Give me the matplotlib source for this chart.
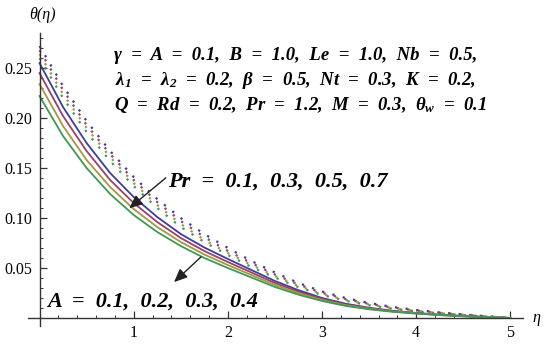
import matplotlib
matplotlib.use("Agg")
import matplotlib.pyplot as plt
from matplotlib.ticker import MultipleLocator

plt.rcParams["mathtext.fontset"] = "custom"
plt.rcParams["mathtext.it"] = "Liberation Serif:italic:bold"
plt.rcParams["mathtext.rm"] = "Liberation Serif:italic:bold"
plt.rcParams["mathtext.bf"] = "Liberation Serif:italic:bold"

eta = [0.0, 0.25, 0.5, 0.75, 1.0, 1.25, 1.5, 1.75, 2.0, 2.25, 2.5,
       2.75, 3.0, 3.25, 3.5, 3.75, 4.0, 4.25, 4.5, 4.75, 5.0]

# solid curves: A = 0.1, 0.2, 0.3, 0.4
theta_A1 = [0.255, 0.211, 0.175, 0.145, 0.121, 0.101, 0.084, 0.0705, 0.059, 0.048, 0.037,
            0.0278, 0.020, 0.0143, 0.0102, 0.0072, 0.005, 0.0033, 0.002, 0.001, 0.0]
theta_A2 = [0.245, 0.202, 0.167, 0.138, 0.115, 0.096, 0.080, 0.067, 0.056, 0.0455, 0.035,
            0.0263, 0.019, 0.0135, 0.0097, 0.0068, 0.0048, 0.0031, 0.0019, 0.001, 0.0]
theta_A3 = [0.234, 0.192, 0.158, 0.131, 0.109, 0.091, 0.076, 0.0635, 0.053, 0.043, 0.033,
            0.0248, 0.018, 0.0128, 0.0092, 0.0065, 0.0046, 0.003, 0.0018, 0.0009, 0.0]
theta_A4 = [0.222, 0.182, 0.150, 0.124, 0.103, 0.086, 0.072, 0.060, 0.050, 0.0405, 0.031,
            0.0233, 0.017, 0.0121, 0.0087, 0.0062, 0.0044, 0.0029, 0.0017, 0.0008, 0.0]

# dotted curves: Pr = 0.1, 0.3, 0.5, 0.7
theta_Pr1 = [0.272, 0.232, 0.197, 0.167, 0.141, 0.119, 0.100, 0.084, 0.070, 0.057, 0.0455,
             0.035, 0.0265, 0.020, 0.015, 0.011, 0.008, 0.0055, 0.0035, 0.0017, 0.0]
theta_Pr2 = [0.268, 0.228, 0.193, 0.164, 0.138, 0.116, 0.097, 0.081, 0.067, 0.055, 0.0435,
             0.0335, 0.0252, 0.019, 0.0142, 0.0104, 0.0075, 0.0052, 0.0033, 0.0016, 0.0]
theta_Pr3 = [0.264, 0.224, 0.190, 0.161, 0.135, 0.113, 0.094, 0.078, 0.065, 0.053, 0.042,
             0.032, 0.024, 0.018, 0.0135, 0.0098, 0.0071, 0.0049, 0.0031, 0.0015, 0.0]
theta_Pr4 = [0.260, 0.220, 0.186, 0.157, 0.132, 0.110, 0.091, 0.076, 0.063, 0.051, 0.0405,
             0.0308, 0.023, 0.0172, 0.0128, 0.0093, 0.0067, 0.0046, 0.0029, 0.0014, 0.0]

colors = ["#3d3d99", "#9a3d70", "#a8963d", "#3d9a55"]

x_ticks = [1, 2, 3, 4, 5]
y_ticks = [0.05, 0.10, 0.15, 0.20, 0.25]
y_tick_labels = ["0.05", "0.10", "0.15", "0.20", "0.25"]

serif = "Liberation Serif"


def main():
    fig = plt.figure(figsize=(5.5, 3.45), dpi=100)
    ax = fig.add_axes([0.0513, 0.0551, 0.899, 0.849])

    for c, th in zip(colors, [theta_Pr1, theta_Pr2, theta_Pr3, theta_Pr4]):
        ax.plot(eta, th, color=c, lw=1.6, linestyle=(0, (1, 3.8)))
    for c, th in zip(colors, [theta_A1, theta_A2, theta_A3, theta_A4]):
        ax.plot(eta, th, color=c, lw=1.3)

    ax.set_xlim(-0.12, 5.13)
    ax.set_ylim(-0.008, 0.285)

    for s in ["top", "right"]:
        ax.spines[s].set_visible(False)
    ax.spines["left"].set_position(("data", 0))
    ax.spines["bottom"].set_position(("data", 0))
    for s in ["left", "bottom"]:
        ax.spines[s].set_color("#333333")
        ax.spines[s].set_linewidth(1.0)

    ax.set_xticks(x_ticks)
    ax.set_xticklabels([str(t) for t in x_ticks])
    ax.set_yticks(y_ticks)
    ax.set_yticklabels(y_tick_labels)
    ax.xaxis.set_minor_locator(MultipleLocator(0.2))
    ax.yaxis.set_minor_locator(MultipleLocator(0.01))
    ax.tick_params(which="major", direction="in", length=5, width=0.9,
                   color="#333333", labelsize=11.5, pad=5)
    ax.tick_params(which="minor", direction="in", length=2.5, width=0.7,
                   color="#333333")
    for lab in ax.get_xticklabels() + ax.get_yticklabels():
        lab.set_fontfamily(serif)

    ax.text(0.027, 0.303, "θ(η)", fontfamily=serif, fontstyle="italic",
            fontsize=11.5, ha="center", va="center", clip_on=False)
    ax.text(5.28, 0.0, "η", fontfamily=serif, fontstyle="italic",
            fontsize=11.5, ha="center", va="center", clip_on=False)

    txt = dict(fontfamily=serif, fontweight="bold", fontstyle="italic",
               ha="center", va="center", fontsize=13.5)
    ax.text(2.72, 0.263, "γ  =  A  =  0.1,  B  =  1.0,  Le  =  1.0,  Nb  =  0.5,", **txt)
    ax.text(2.72, 0.238, "λ$_{1}$  =  λ$_{2}$  =  0.2,  β  =  0.5,  Nt  =  0.3,  K  =  0.2,", **txt)
    ax.text(2.77, 0.213, "Q  =  Rd  =  0.2,  Pr  =  1.2,  M  =  0.3,  θ$_{w}$  =  0.1", **txt)

    txt2 = dict(fontfamily=serif, fontweight="bold", fontstyle="italic",
                ha="left", va="center", fontsize=16)
    ax.text(1.36, 0.136, "Pr  =  0.1,  0.3,  0.5,  0.7", **txt2)
    ax.text(0.08, 0.016, "A  =  0.1,  0.2,  0.3,  0.4", **txt2)

    arrow = dict(arrowstyle="-|>,head_length=0.8,head_width=0.35",
                 color="#222222", lw=1.0)
    ax.annotate("", xy=(0.93, 0.108), xytext=(1.364, 0.142), arrowprops=arrow)
    ax.annotate("", xy=(1.407, 0.034), xytext=(1.736, 0.063), arrowprops=arrow)

    fig.savefig("out.png", dpi=100)


if __name__ == "__main__":
    main()
